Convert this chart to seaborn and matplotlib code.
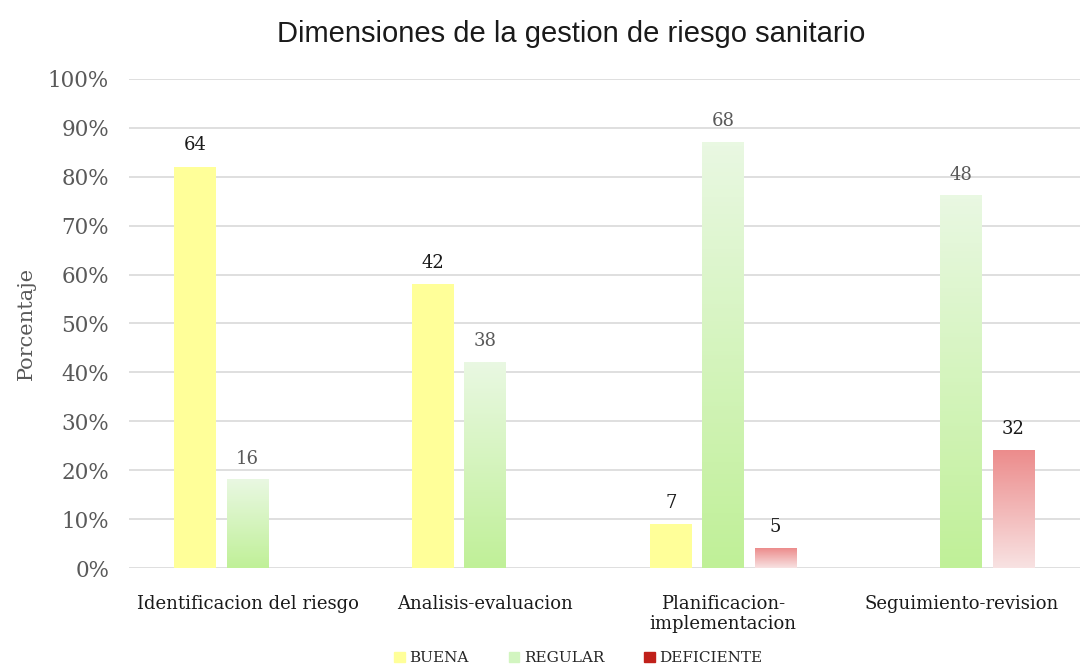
import numpy as np
import pandas as pd
import matplotlib.pyplot as plt
import seaborn as sns
from matplotlib.patches import Patch
from matplotlib.ticker import PercentFormatter

# Datos
categorias = ["Identificacion del riesgo", "Analisis-evaluacion",
              "Planificacion-\nimplementacion", "Seguimiento-revision"]
niveles = ["BUENA", "REGULAR", "DEFICIENTE"]
pct_buena = [82, 58, 9, 0]
pct_regular = [18, 42, 87, 76]
pct_deficiente = [0, 0, 4, 24]
n_buena = [64, 42, 7, 0]
n_regular = [16, 38, 68, 48]
n_deficiente = [0, 0, 5, 32]

df = pd.DataFrame({
    "Dimension": categorias * 3,
    "Nivel": [n for n in niveles for _ in categorias],
    "Porcentaje": [v / 100 for v in pct_buena + pct_regular + pct_deficiente],
})
etiquetas = [n_buena, n_regular, n_deficiente]

sns.set_style("white")
plt.rcParams["font.family"] = "DejaVu Serif"

fig = plt.figure(figsize=(10.85, 6.67), dpi=100)
ax = fig.add_axes([0.1185, 0.148, 0.877, 0.734])

colores = {"BUENA": "#FFFF99", "REGULAR": "#D2F5C0", "DEFICIENTE": "#C0201A"}
sns.barplot(data=df, x="Dimension", y="Porcentaje", hue="Nivel",
            hue_order=niveles, palette=colores, width=0.66, gap=0.2,
            saturation=1, linewidth=0, legend=False, ax=ax)

# degradados (arriba -> abajo)
grad = {
    "REGULAR": ((233, 248, 226), (192, 240, 152)),
    "DEFICIENTE": ((236, 140, 140), (248, 226, 226)),
}
for nivel, cont, labs in zip(niveles, ax.containers, etiquetas):
    for bar, lab in zip(cont, labs):
        h = bar.get_height()
        if h <= 0:
            continue
        x0 = bar.get_x()
        w = bar.get_width()
        if nivel in grad:
            top, bot = np.array(grad[nivel]) / 255
            t = np.linspace(0, 1, 100)[:, None]
            img = (bot * (1 - t) + top * t)[:, None, :]
            bar.set_facecolor("none")
            ax.imshow(img, extent=[x0, x0 + w, 0, h], origin="lower",
                      aspect="auto", zorder=bar.get_zorder())
        col = "#595959" if nivel == "REGULAR" else "#1a1a1a"
        ax.annotate(str(lab), (x0 + w / 2, h), xytext=(0, 9),
                    textcoords="offset points", ha="center", va="bottom",
                    fontsize=13, color=col)

ax.set_xlim(-0.5, 3.5)
ax.set_ylim(0, 1)
ax.set_yticks(np.arange(0, 1.01, 0.1))
ax.yaxis.set_major_formatter(PercentFormatter(1.0, decimals=0))
ax.grid(axis="y", color="#D9D9D9", linewidth=1.2)
ax.set_axisbelow(True)
sns.despine(ax=ax, left=True, bottom=True)
ax.tick_params(axis="y", labelsize=15.5, labelcolor="#595959", length=0, pad=14)
ax.tick_params(axis="x", labelsize=13, labelcolor="#1a1a1a", length=0, pad=19)
ax.set_xlabel("")
ax.set_ylabel("Porcentaje", fontsize=15, color="#595959", labelpad=9)

fig.suptitle("Dimensiones de la gestion de riesgo sanitario",
             family="Liberation Sans", fontsize=21, color="#1a1a1a",
             x=0.526, y=0.97)

handles = [Patch(color="#FFFF99"), Patch(color="#D2F5C0"), Patch(color="#C0201A")]
fig.legend(handles, niveles, loc="lower center", bbox_to_anchor=(0.533, -0.018),
           ncol=3, frameon=False, fontsize=11, handlelength=0.7,
           handleheight=0.7, handletextpad=0.3, columnspacing=2.6)

fig.savefig("out.png", dpi=100)
